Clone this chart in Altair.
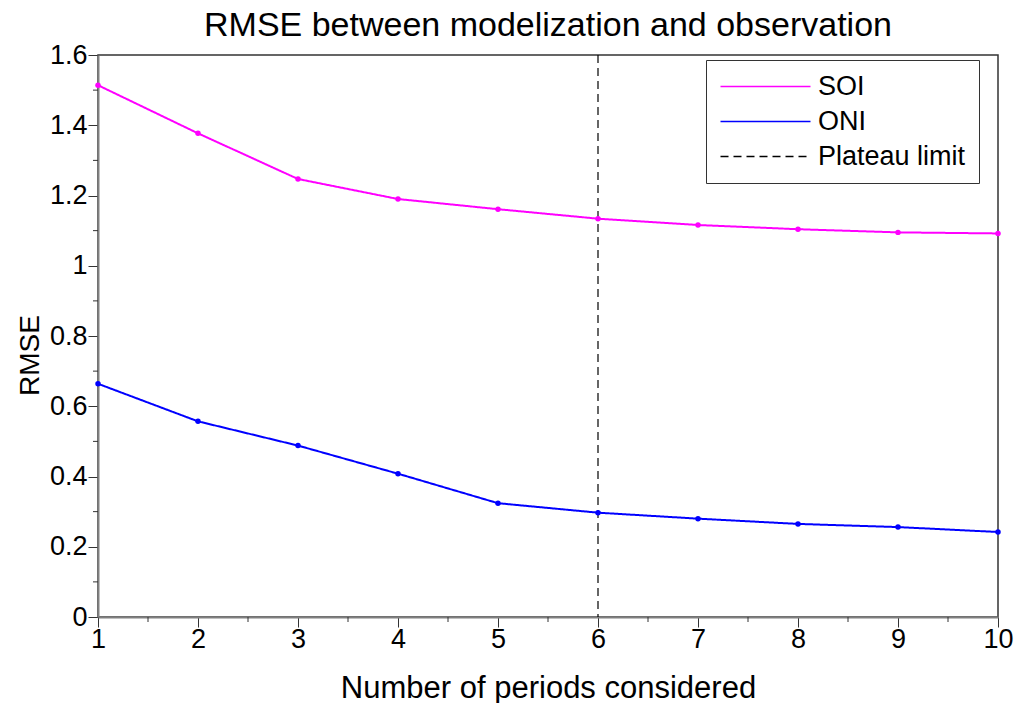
import altair as alt
import pandas as pd

# RMSE of each index against the number of periods kept in the model
periods = [1, 2, 3, 4, 5, 6, 7, 8, 9, 10]
soi_rmse = [1.514, 1.377, 1.247, 1.190, 1.161, 1.134, 1.116, 1.104, 1.095, 1.092]
oni_rmse = [0.664, 0.557, 0.488, 0.408, 0.324, 0.297, 0.280, 0.265, 0.256, 0.242]
plateau_period = [6]

series_names = ["SOI", "ONI", "Plateau limit"]
series_colors = ["#ff00ff", "#0000ff", "#000000"]
series_dashes = [[1, 0], [1, 0], [8, 5]]

y_major = [0, 0.2, 0.4, 0.6, 0.8, 1.0, 1.2, 1.4, 1.6]
y_minor = [0.1, 0.3, 0.5, 0.7, 0.9, 1.1, 1.3, 1.5]
x_major = periods
x_minor = [1.5, 2.5, 3.5, 4.5, 5.5, 6.5, 7.5, 8.5, 9.5]

FONT = "Liberation Sans"
W, H = 900, 562

curves = pd.DataFrame({
    "period": periods * 2,
    "rmse": soi_rmse + oni_rmse,
    "series": ["SOI"] * len(periods) + ["ONI"] * len(periods),
})
plateau = pd.DataFrame({"period": plateau_period, "series": ["Plateau limit"]})
y_minor_df = pd.DataFrame({"rmse": y_minor})
x_minor_df = pd.DataFrame({"period": x_minor})

x_axis = alt.Axis(
    values=x_major, title="Number of periods considered", grid=False,
    tickSize=10, labelPadding=-1, labelFontSize=27, labelFlush=False,
    titleFontSize=31, titleFontWeight="normal", titleX=W / 2, titleY=71,
    titleBaseline="middle", titleAlign="center",
)
y_axis = alt.Axis(
    values=y_major, title="RMSE", format=".1~f", grid=False,
    tickSize=10, labelPadding=1, labelFontSize=27, labelFlush=False,
    titleFontSize=28, titleFontWeight="normal", titleX=-68, titleY=300,
    titleBaseline="middle", titleAlign="center", titleAngle=270,
)
x_enc = alt.X("period:Q", scale=alt.Scale(domain=[1, 10], nice=False, zero=False), axis=x_axis)
y_enc = alt.Y("rmse:Q", scale=alt.Scale(domain=[0, 1.6], nice=False), axis=y_axis)

legend = alt.Legend(
    title=None, orient="none", legendX=608, legendY=5,
    symbolType="M-5,0H5", symbolSize=324, symbolStrokeWidth=1.5,
    symbolOffset=33, labelOffset=39, labelFontSize=27, labelFont=FONT,
    rowPadding=7, padding=13, strokeColor="#333333", fillColor="white",
)
color_enc = alt.Color(
    "series:N", scale=alt.Scale(domain=series_names, range=series_colors), legend=legend
)
dash_enc = alt.StrokeDash(
    "series:N", scale=alt.Scale(domain=series_names, range=series_dashes), legend=legend
)

lines = alt.Chart(curves).mark_line(
    strokeWidth=2, point=alt.OverlayMarkDef(filled=True, size=30)
).encode(x=x_enc, y=y_enc, color=color_enc, strokeDash=dash_enc)

plateau_rule = alt.Chart(plateau).mark_rule(strokeWidth=1.2).encode(
    x=x_enc, color=color_enc, strokeDash=dash_enc
)

y_minor_ticks = alt.Chart(y_minor_df).mark_rule(color="#333333", strokeWidth=1).encode(
    y=y_enc, x=alt.value(-5), x2=alt.value(0)
)
x_minor_ticks = alt.Chart(x_minor_df).mark_rule(color="#333333", strokeWidth=1).encode(
    x=x_enc, y=alt.value(H), y2=alt.value(H + 5)
)

chart = (
    alt.layer(y_minor_ticks, x_minor_ticks, plateau_rule, lines)
    .properties(
        width=W, height=H,
        title=alt.TitleParams(
            "RMSE between modelization and observation", fontSize=34,
            fontWeight="normal", font=FONT, anchor="middle", frame="group",
            baseline="alphabetic", offset=18, dy=47,
        ),
        autosize=alt.AutoSizeParams(type="none"),
        padding={"left": 98, "top": 55, "right": 21, "bottom": 86},
    )
    .configure(font=FONT, background="white")
    .configure_view(stroke="#333333", strokeWidth=1.5)
    .configure_axis(
        domainColor="#808080", domainWidth=2, tickColor="#333333",
        labelColor="black", titleColor="black", labelFont=FONT, titleFont=FONT,
    )
)

chart.save("out.html", embed_options={"renderer": "svg", "actions": False})
